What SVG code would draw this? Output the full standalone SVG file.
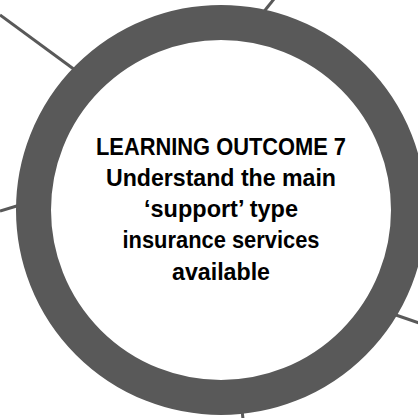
<svg xmlns="http://www.w3.org/2000/svg" width="418" height="418" viewBox="0 0 418 418">
<style>
.con{stroke:#595959;stroke-width:3;fill:none}
.ring{fill:#ffffff;stroke:#595959;stroke-width:35}
.t{font-family:"Liberation Sans",Arial,sans-serif;font-weight:bold;font-size:24px;fill:#000;text-anchor:middle}
</style>
<rect width="418" height="418" fill="#fff"/>
<g id="connectors">
<line class="con" x1="0" y1="15" x2="75" y2="70"/>
<line class="con" x1="262" y1="14" x2="274" y2="-1"/>
<line class="con" x1="0" y1="211" x2="20" y2="205"/>
<line class="con" x1="390" y1="313" x2="419" y2="323"/>
<line class="con" x1="242" y1="410" x2="243" y2="419"/>
</g>
<g id="node-outcome7">
<circle class="ring" cx="221" cy="210" r="187.5"/>
<text class="t" x="221" y="155" textLength="250" lengthAdjust="spacingAndGlyphs">LEARNING OUTCOME 7</text>
<text class="t" x="221" y="186" textLength="230" lengthAdjust="spacingAndGlyphs">Understand the main</text>
<text class="t" x="221" y="217" textLength="154" lengthAdjust="spacingAndGlyphs">‘support’ type</text>
<text class="t" x="221" y="248" textLength="197" lengthAdjust="spacingAndGlyphs">insurance services</text>
<text class="t" x="221" y="280" textLength="98" lengthAdjust="spacingAndGlyphs">available</text>
</g>
</svg>
